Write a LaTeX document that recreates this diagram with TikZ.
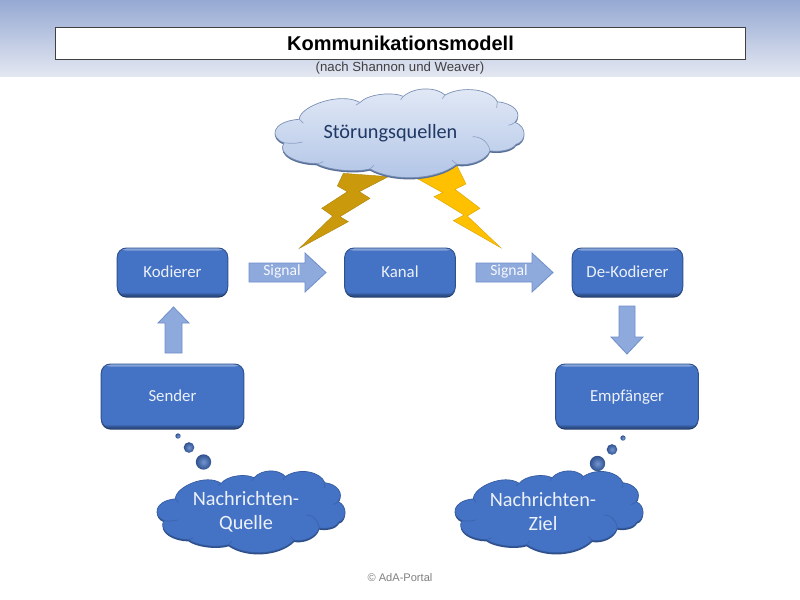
\documentclass[tikz,border=0pt]{standalone}
\usepackage{fontspec}
\setmainfont{Carlito}
\newfontfamily\arialfont{Liberation Sans}
\definecolor{boxblue}{HTML}{4472C4}
\definecolor{boxedge}{HTML}{2F528F}
\definecolor{boxdark}{HTML}{1F3864}
\definecolor{arrowfill}{HTML}{8EA9DB}
\definecolor{arrowedge}{HTML}{6F8FCB}
\definecolor{boltdark}{HTML}{CB9A0C}
\definecolor{boltlight}{HTML}{FFC000}
\definecolor{bandtop}{HTML}{96A9D3}
\definecolor{bandbottom}{HTML}{E3E7F1}
\newcommand{\cloudoutline}{(118,118)
  .. controls (118,80) and (240,35) .. (300,68)
  .. controls (325,42) and (400,36) .. (430,50)
  .. controls (465,20) and (530,22) .. (555,46)
  .. controls (610,16) and (695,30) .. (712,66)
  .. controls (760,70) and (790,100) .. (765,127)
  .. controls (802,140) and (800,185) .. (768,193)
  .. controls (755,212) and (715,216) .. (690,212)
  .. controls (680,240) and (630,258) .. (590,252)
  .. controls (530,300) and (400,305) .. (330,266)
  .. controls (280,278) and (200,268) .. (170,250)
  .. controls (110,250) and (50,222) .. (72,188)
  .. controls (30,175) and (30,125) .. (118,118) -- cycle}
\newcommand{\cloudfolds}{(118,118) to[bend left=15] (130,130)
  (300,68) to[bend right=15] (288,76) (430,50) to[bend right=15] (422,60)
  (555,46) to[bend right=15] (547,57) (712,66) to[bend left=15] (710,84)
  (765,127) to[bend left=15] (745,136) (690,212) to[bend right=40] (638,170)
  (590,252) to[bend left=15] (576,240) (330,266) to[bend left=15] (342,255)
  (170,250) to[bend right=15] (190,244) (72,188) to[bend right=10] (128,186)}
\newcommand{\drawcloud}[6]{% x, y, w, h, top colour, bottom colour
  \begin{scope}[shift={(#1,#2)},xscale=#3/747,yscale=#4/268,shift={(-45,-25)}]
    \path[fill=#6!40!boxdark,transform canvas={yshift=-1.3pt}] \cloudoutline;
    \path[draw=#6!60!boxdark,line width=.5pt,top color=#5,bottom color=#6] \cloudoutline;
    \draw[#6!75!boxdark,line width=.5pt] \cloudfolds;
  \end{scope}}
\tikzset{
  x=.75pt,y=-.75pt,
  titletext/.style={font=\arialfont\bfseries\fontsize{15}{17}\selectfont,text=black,inner sep=0},
  smalltext/.style={font=\arialfont\fontsize{9.9}{12}\selectfont,inner sep=0},
  copytext/.style={font=\arialfont\fontsize{8.3}{10}\selectfont,inner sep=0},
  bluebox/.style={rounded corners=7pt,fill=boxblue,draw=boxedge,line width=.7pt,
    text=white!90!boxblue,font=\fontsize{12.6}{15}\selectfont,inner sep=0,
    text height=.85em,text depth=0pt,
    preaction={fill=boxdark,transform canvas={yshift=-1.2pt}},
    path picture={
      \fill[top color=boxblue!65!white,bottom color=boxblue]
        (path picture bounding box.north west) rectangle ([yshift=-2pt]path picture bounding box.north east);
      \fill[top color=boxblue,bottom color=boxedge!80!black]
        ([yshift=3pt]path picture bounding box.south west) rectangle (path picture bounding box.south east);}},
  smallbox/.style={bluebox,minimum width=83pt,minimum height=36pt},
  largebox/.style={bluebox,minimum width=107pt,minimum height=48pt},
  blockarrow/.style={fill=arrowfill,draw=arrowedge,line width=.6pt,line join=miter},
  arrowtext/.style={font=\fontsize{11.7}{14}\selectfont,text=white!92!arrowfill,inner sep=0},
  cloudtext/.style={font=\fontsize{15.2}{18}\selectfont,align=center,inner sep=0},
  bubble/.style={circle,inner sep=0,inner color=boxblue!75!white,outer color=boxedge},
}
\begin{document}
\begin{tikzpicture}
\useasboundingbox (0,0) rectangle (800,600);
\fill[white] (0,0) rectangle (800,600);
\path[top color=bandtop,bottom color=bandbottom] (0,0) rectangle (800,76);
% lightning
\begin{scope}[shift={(260,80)},scale=1/3]
  \fill[boltdark,draw=boltdark!85!black,line width=.3pt] (250,280) -- (232,318) -- (262,335) -- (185,385) -- (218,408) -- (118,505) -- (265,425) -- (240,410) -- (330,355) -- (298,335) -- (385,290) -- cycle;
  \fill[boltlight,draw=boltlight!85!black,line width=.3pt] (465,292) -- (590,255) -- (618,312) -- (585,328) -- (660,385) -- (622,408) -- (722,503) -- (580,422) -- (612,405) -- (522,350) -- (548,338) -- cycle;
\end{scope}
% title
\node[draw=black!75,fill=white,line width=.7pt,minimum width=518pt,minimum height=24.5pt,inner sep=0] (titlebox) at (400.5,43.5) {};
\node[titletext] (title) at (400.5,43.5) {Kommunikationsmodell};
\node[smalltext,text=black!75] (subtitle) at (400,68.5) {(nach Shannon und Weaver)};
% clouds
\drawcloud{275}{88}{249}{90}{boxblue!15!white}{boxblue!42!white}
\node[cloudtext,text=boxdark] (stoerung) at (390.5,133) {Störungsquellen};
\drawcloud{157}{470}{188}{83}{boxblue}{boxblue}
\node[cloudtext,text=white!90!boxblue] (quelle) at (246,511.5) {Nachrichten-\\Quelle};
\drawcloud{455}{470}{188}{83}{boxblue}{boxblue}
\node[cloudtext,text=white!90!boxblue] (ziel) at (543,511.5) {Nachrichten-\\Ziel};
% boxes
\node[smallbox] (kodierer) at (172.5,272) {Kodierer};
\node[smallbox] (kanal) at (400,272) {Kanal};
\node[smallbox] (dekodierer) at (627.5,272) {De-Kodierer};
\node[largebox] (sender) at (172.5,396) {Sender};
\node[largebox] (empfaenger) at (627,396) {Empfänger};
% block arrows
\draw[blockarrow] (249,263) -- (305,263) -- (305,253) -- (326,272.5) -- (305,292) -- (305,282) -- (249,282) -- cycle;
\node[arrowtext] (signala) at (282,271) {Signal};
\draw[blockarrow] (476,263) -- (532,263) -- (532,253) -- (553,272.5) -- (532,292) -- (532,282) -- (476,282) -- cycle;
\node[arrowtext] (signalb) at (509,271) {Signal};
\draw[blockarrow] (165,353) -- (165,323) -- (158,323) -- (173.5,307) -- (189,323) -- (182,323) -- (182,353) -- cycle;
\draw[blockarrow] (619,306) -- (619,337) -- (611,337) -- (627,354) -- (643,337) -- (635,337) -- (635,306) -- cycle;
% thought bubbles
\node[bubble,minimum size=4pt] (qa) at (178,436) {};
\node[bubble,minimum size=8pt] (qb) at (189,447.5) {};
\node[bubble,minimum size=11.5pt] (qc) at (203.5,462) {};
\node[bubble,minimum size=4pt] (za) at (623,438) {};
\node[bubble,minimum size=8pt] (zb) at (612,449.5) {};
\node[bubble,minimum size=11.5pt] (zc) at (597.5,463.5) {};
% footer
\node[copytext,text=black!50] (copy) at (400,578) {© AdA-Portal};
\end{tikzpicture}
\end{document}
